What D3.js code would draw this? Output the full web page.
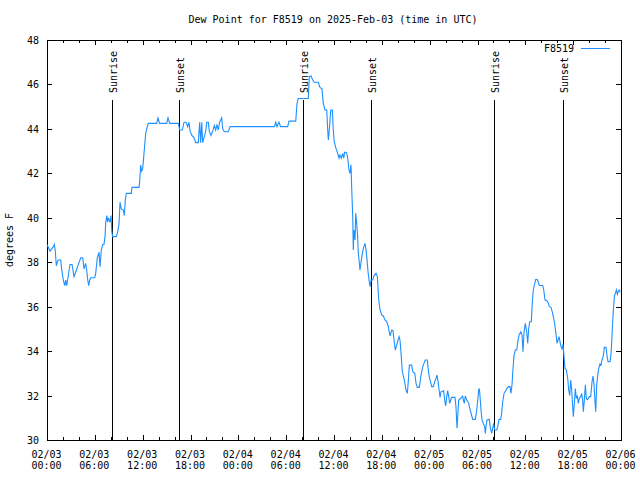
<!DOCTYPE html>
<html><head><meta charset="utf-8">
<script src="https://cdn.jsdelivr.net/npm/d3@7"></script>
<style>body{margin:0;background:#fff}svg{display:block}text{font-family:"DejaVu Sans Mono",monospace;font-size:10px;fill:#000}</style>
</head><body><svg id="c" width="640" height="480"></svg>
<script>
// hours since 2025-02-03 00:00 UTC
const hours = [0.0,0.38,0.79,0.92,1.04,1.17,1.29,1.42,1.72,1.84,
2.04,2.22,2.35,2.47,2.63,2.89,3.14,3.39,3.6,3.98,
4.23,4.48,4.64,4.85,4.98,5.11,5.23,5.36,5.48,5.98,
6.11,6.31,6.52,6.65,6.81,6.99,7.15,7.28,7.36,7.49,
7.61,7.7,7.9,8.03,8.12,8.24,8.69,8.82,9.03,9.16,
9.32,9.57,9.7,9.82,9.95,10.57,10.66,11.54,11.63,11.75,
11.88,12.0,12.17,12.38,12.58,12.71,13.76,13.92,14.13,15.01,
15.18,15.39,16.47,16.65,16.97,17.19,17.44,17.65,17.81,17.94,
18.15,18.44,18.65,18.98,19.15,19.28,19.41,19.53,19.69,19.91,
20.03,20.23,20.36,20.57,20.79,20.99,21.16,21.32,21.49,21.66,
21.91,22.04,22.24,22.74,22.96,28.52,28.69,28.85,29.1,29.31,
30.19,30.36,31.2,31.36,31.52,32.78,32.9,33.12,33.33,33.53,
34.03,34.24,34.49,34.66,34.87,35.09,35.21,35.29,35.41,35.59,
35.79,35.91,36.04,36.25,36.46,36.63,36.75,36.92,37.09,37.22,
37.34,37.59,37.72,37.88,38.01,38.13,38.22,38.35,38.42,38.51,
38.64,38.72,38.85,38.97,39.05,39.14,39.26,39.39,39.51,39.68,
39.89,40.01,40.14,40.27,40.39,40.52,40.65,40.86,41.02,41.27,
41.44,41.61,41.78,41.99,42.19,42.4,42.61,42.81,43.03,43.24,
43.4,43.53,43.69,43.87,44.03,44.16,44.28,44.41,44.57,44.82,
45.03,45.2,45.33,45.45,45.75,45.88,46.13,46.29,46.45,46.7,
46.88,47.13,47.45,47.7,47.88,48.04,48.26,48.46,48.63,48.8,
48.92,49.05,49.21,49.3,49.42,49.76,49.88,50.01,50.14,50.26,
50.39,50.51,50.64,50.76,51.18,51.3,51.43,51.52,51.64,51.97,
52.14,52.22,52.35,52.47,52.65,52.9,53.06,53.22,53.4,53.73,
53.9,54.03,54.15,54.23,54.32,54.44,54.57,54.73,54.9,54.98,
55.07,55.19,55.48,55.61,55.78,55.91,56.03,56.16,56.41,56.54,
56.7,56.91,57.03,57.16,57.33,57.66,57.87,58.08,58.2,58.33,
58.42,58.58,58.75,58.92,59.05,59.21,59.42,59.59,59.71,59.84,
60.0,60.17,60.3,60.42,60.55,60.75,60.88,61.0,61.18,61.3,
61.5,61.63,61.76,62.18,62.31,62.47,62.68,62.89,63.01,63.22,
63.38,63.51,63.64,63.76,63.89,63.98,64.1,64.23,64.35,64.48,
64.6,64.73,64.85,64.98,65.14,65.32,65.44,65.57,65.69,65.82,
65.94,66.02,66.15,66.27,66.4,66.52,66.65,66.77,66.95,67.07,
67.2,67.28,67.4,67.53,67.65,67.78,67.9,68.03,68.2,68.37,
68.49,68.62,68.74,68.83,68.95,69.08,69.21,69.37,69.49,69.62,
69.78,69.91,70.12,70.25,70.38,70.63,70.75,70.84,70.91,71.04,
71.17,71.29,71.42,71.54,71.67,71.8,71.89];

const dewPoint = [38.8,38.5,38.7,38.8,38.5,37.84,38.0,38.1,38.1,37.7,
37.2,36.95,37.2,36.95,37.3,37.9,37.9,37.35,37.55,37.95,
38.2,38.2,37.7,37.95,37.65,37.2,36.95,37.2,37.3,37.3,
37.5,38.2,38.45,37.8,38.55,38.8,38.8,39.15,39.75,40.1,
39.8,40.0,39.8,40.1,39.4,39.15,39.15,39.3,39.7,40.7,
40.4,40.35,40.1,40.8,41.1,41.1,41.37,41.37,41.65,42.37,
42.1,42.2,42.9,43.8,44.1,44.25,44.25,44.5,44.25,44.25,
44.5,44.25,44.25,43.95,43.95,44.3,44.3,44.1,44.3,43.9,
43.72,43.6,43.38,43.38,44.3,43.38,44.3,43.38,43.6,43.9,
44.3,44.3,43.9,43.7,43.9,44.15,43.95,44.2,43.95,44.3,
44.5,44.0,43.87,43.87,44.1,44.1,44.3,44.1,44.3,44.1,
44.1,44.35,44.35,45.15,45.37,45.37,46.35,46.38,46.2,46.1,
46.1,45.87,45.8,45.15,44.85,44.85,43.95,43.5,43.95,44.85,
44.85,43.95,43.4,43.12,42.9,42.68,42.83,42.68,42.9,42.68,
42.95,42.93,42.68,42.15,42.0,42.38,41.33,40.05,38.55,39.45,
39.0,40.2,39.75,39.1,38.4,38.1,37.65,38.0,38.3,38.62,
38.85,38.58,38.13,37.57,37.2,36.9,37.2,37.2,37.4,37.5,
37.35,36.3,35.85,35.62,35.58,35.4,35.33,35.1,34.68,34.95,
34.92,34.5,34.05,34.28,34.5,34.65,34.5,33.9,33.07,32.7,
32.25,32.1,32.7,33.37,33.37,33.07,33.0,32.55,32.37,32.37,
32.85,33.3,33.6,33.6,33.0,32.7,32.4,32.4,32.63,32.78,
32.92,32.63,32.17,31.92,32.17,32.22,31.8,31.53,31.95,32.22,
31.95,31.65,31.8,31.92,31.92,31.5,30.53,31.05,31.8,31.9,
31.98,31.8,31.65,31.98,31.8,31.65,31.38,31.17,30.93,30.93,
31.35,31.8,32.25,32.32,31.95,31.35,30.9,30.75,30.6,30.3,
30.6,30.9,30.93,30.53,30.3,30.53,30.75,30.45,30.45,30.6,
30.93,30.93,31.2,31.72,32.1,32.3,32.4,32.4,32.1,32.5,
33.03,33.82,34.05,34.05,34.42,34.72,34.87,34.72,33.97,34.87,
35.25,34.87,34.35,35.0,35.32,35.32,36.22,36.75,37.05,37.22,
37.22,37.1,36.95,36.95,36.75,36.3,36.28,36.15,36.0,35.97,
35.77,35.55,35.32,35.0,34.65,34.35,34.5,34.65,34.42,34.2,
34.1,34.3,33.75,33.22,33.15,32.77,32.25,32.0,32.7,32.25,
31.5,31.05,31.65,32.32,31.87,32.0,31.65,31.87,31.95,32.1,
31.72,31.27,31.8,32.48,31.87,31.82,31.87,31.95,31.95,32.63,
32.88,32.48,31.72,31.27,32.48,32.92,33.22,33.42,33.37,33.6,
33.78,34.17,34.17,33.78,33.52,33.52,33.9,34.42,35.02,35.85,
36.45,36.6,36.75,36.55,36.7,36.75,36.65];

const sunriseHours = [8.18, 32.15, 56.1];
const sunsetHours = [16.6, 40.68, 64.76];
const yTickValues = [30, 32, 34, 36, 38, 40, 42, 44, 46, 48];
const majorStepHours = 6;
const minorStepHours = 2;
const totalHours = 72;
const seriesName = "F8519";
const titleText = "Dew Point for F8519 on 2025-Feb-03 (time in UTC)";
const yLabelText = "degrees F";

const t0 = Date.UTC(2025, 1, 3, 0, 0);
const toDate = h => new Date(t0 + h * 3600000);

const L = 47, R = 621, T = 40, B = 440;
const svg = d3.select("#c");
const x = d3.scaleUtc().domain([toDate(0), toDate(totalHours)]).range([L, R]);
const y = d3.scaleLinear().domain([30, 48]).range([B, T]);

const majorT = d3.range(0, totalHours + 0.01, majorStepHours).map(toDate);
const minorT = d3.range(0, totalHours + 0.01, minorStepHours).filter(h => h % majorStepHours !== 0).map(toDate);
const fmtD = d3.utcFormat("%m/%d"), fmtT = d3.utcFormat("%H:%M");

// bottom major with labels
const gb = svg.append("g").attr("transform", `translate(0,${B})`)
  .call(d3.axisBottom(x).tickValues(majorT).tickSizeInner(-5).tickSizeOuter(0).tickPadding(11).tickFormat(""));
gb.select(".domain").remove();
gb.selectAll(".tick text").each(function(d){
  const t = d3.select(this).attr("dy", null).attr("y", 18).attr("x", -1);
  t.append("tspan").attr("x", -1).text(fmtD(d));
  t.append("tspan").attr("x", -1).attr("dy", 11).text(fmtT(d));
});
const gbm = svg.append("g").attr("transform", `translate(0,${B})`)
  .call(d3.axisBottom(x).tickValues(minorT).tickSizeInner(-3).tickSizeOuter(0).tickFormat(""));
gbm.select(".domain").remove();
// top mirror
const gt = svg.append("g").attr("transform", `translate(0,${T})`)
  .call(d3.axisTop(x).tickValues(majorT).tickSizeInner(-5).tickSizeOuter(0).tickFormat(""));
gt.select(".domain").remove();
const gtm = svg.append("g").attr("transform", `translate(0,${T})`)
  .call(d3.axisTop(x).tickValues(minorT).tickSizeInner(-3).tickSizeOuter(0).tickFormat(""));
gtm.select(".domain").remove();
// left
const gl = svg.append("g").attr("transform", `translate(${L},0)`)
  .call(d3.axisLeft(y).tickValues(yTickValues).tickSizeInner(-5).tickSizeOuter(0).tickPadding(8).tickFormat(d3.format("d")));
gl.select(".domain").remove();
gl.selectAll(".tick text").attr("dy", "0.35em");
const gr = svg.append("g").attr("transform", `translate(${R},0)`)
  .call(d3.axisRight(y).tickValues(yTickValues).tickSizeInner(-5).tickSizeOuter(0).tickFormat(""));
gr.select(".domain").remove();

svg.selectAll(".tick line").attr("stroke", "#000").attr("shape-rendering", "crispEdges");
svg.selectAll("g text").attr("font-family", "DejaVu Sans Mono, monospace").attr("font-size", 10).attr("fill", "#000");

// border
svg.append("rect").attr("x", L + 0.5).attr("y", T + 0.5).attr("width", R - L).attr("height", B - T)
  .attr("fill", "none").attr("stroke", "#000").attr("shape-rendering", "crispEdges");

// sunrise/sunset markers
const markers = sunriseHours.map(h => ({h, label: "Sunrise"}))
  .concat(sunsetHours.map(h => ({h, label: "Sunset"})));
markers.forEach(m => {
  const xx = Math.round(x(toDate(m.h))) + 0.5;
  svg.append("line").attr("x1", xx).attr("x2", xx).attr("y1", 100).attr("y2", B)
    .attr("stroke", "#000").attr("shape-rendering", "crispEdges");
  svg.append("text").attr("transform", `translate(${xx + 4},93) rotate(-90)`)
    .attr("text-anchor", "start").text(m.label);
});

// data line
const data = hours.map((h, i) => ({t: toDate(h), v: dewPoint[i]})).filter(d => d.v != null);
svg.append("path").datum(data)
  .attr("fill", "none").attr("stroke", "#1e90ff").attr("stroke-width", 1.1)
  .attr("d", d3.line().x(d => x(d.t)).y(d => y(d.v)));

// legend
svg.append("text").attr("x", 574).attr("y", 52).attr("text-anchor", "end").text(seriesName);
svg.append("line").attr("x1", 581).attr("x2", 610).attr("y1", 48.5).attr("y2", 48.5)
  .attr("stroke", "#1e90ff").attr("shape-rendering", "crispEdges");

// title and y label
svg.append("text").attr("x", 333).attr("y", 23).attr("text-anchor", "middle").text(titleText);
svg.append("text").attr("transform", `translate(13,240) rotate(-90)`).attr("text-anchor", "middle").text(yLabelText);
</script></body></html>
